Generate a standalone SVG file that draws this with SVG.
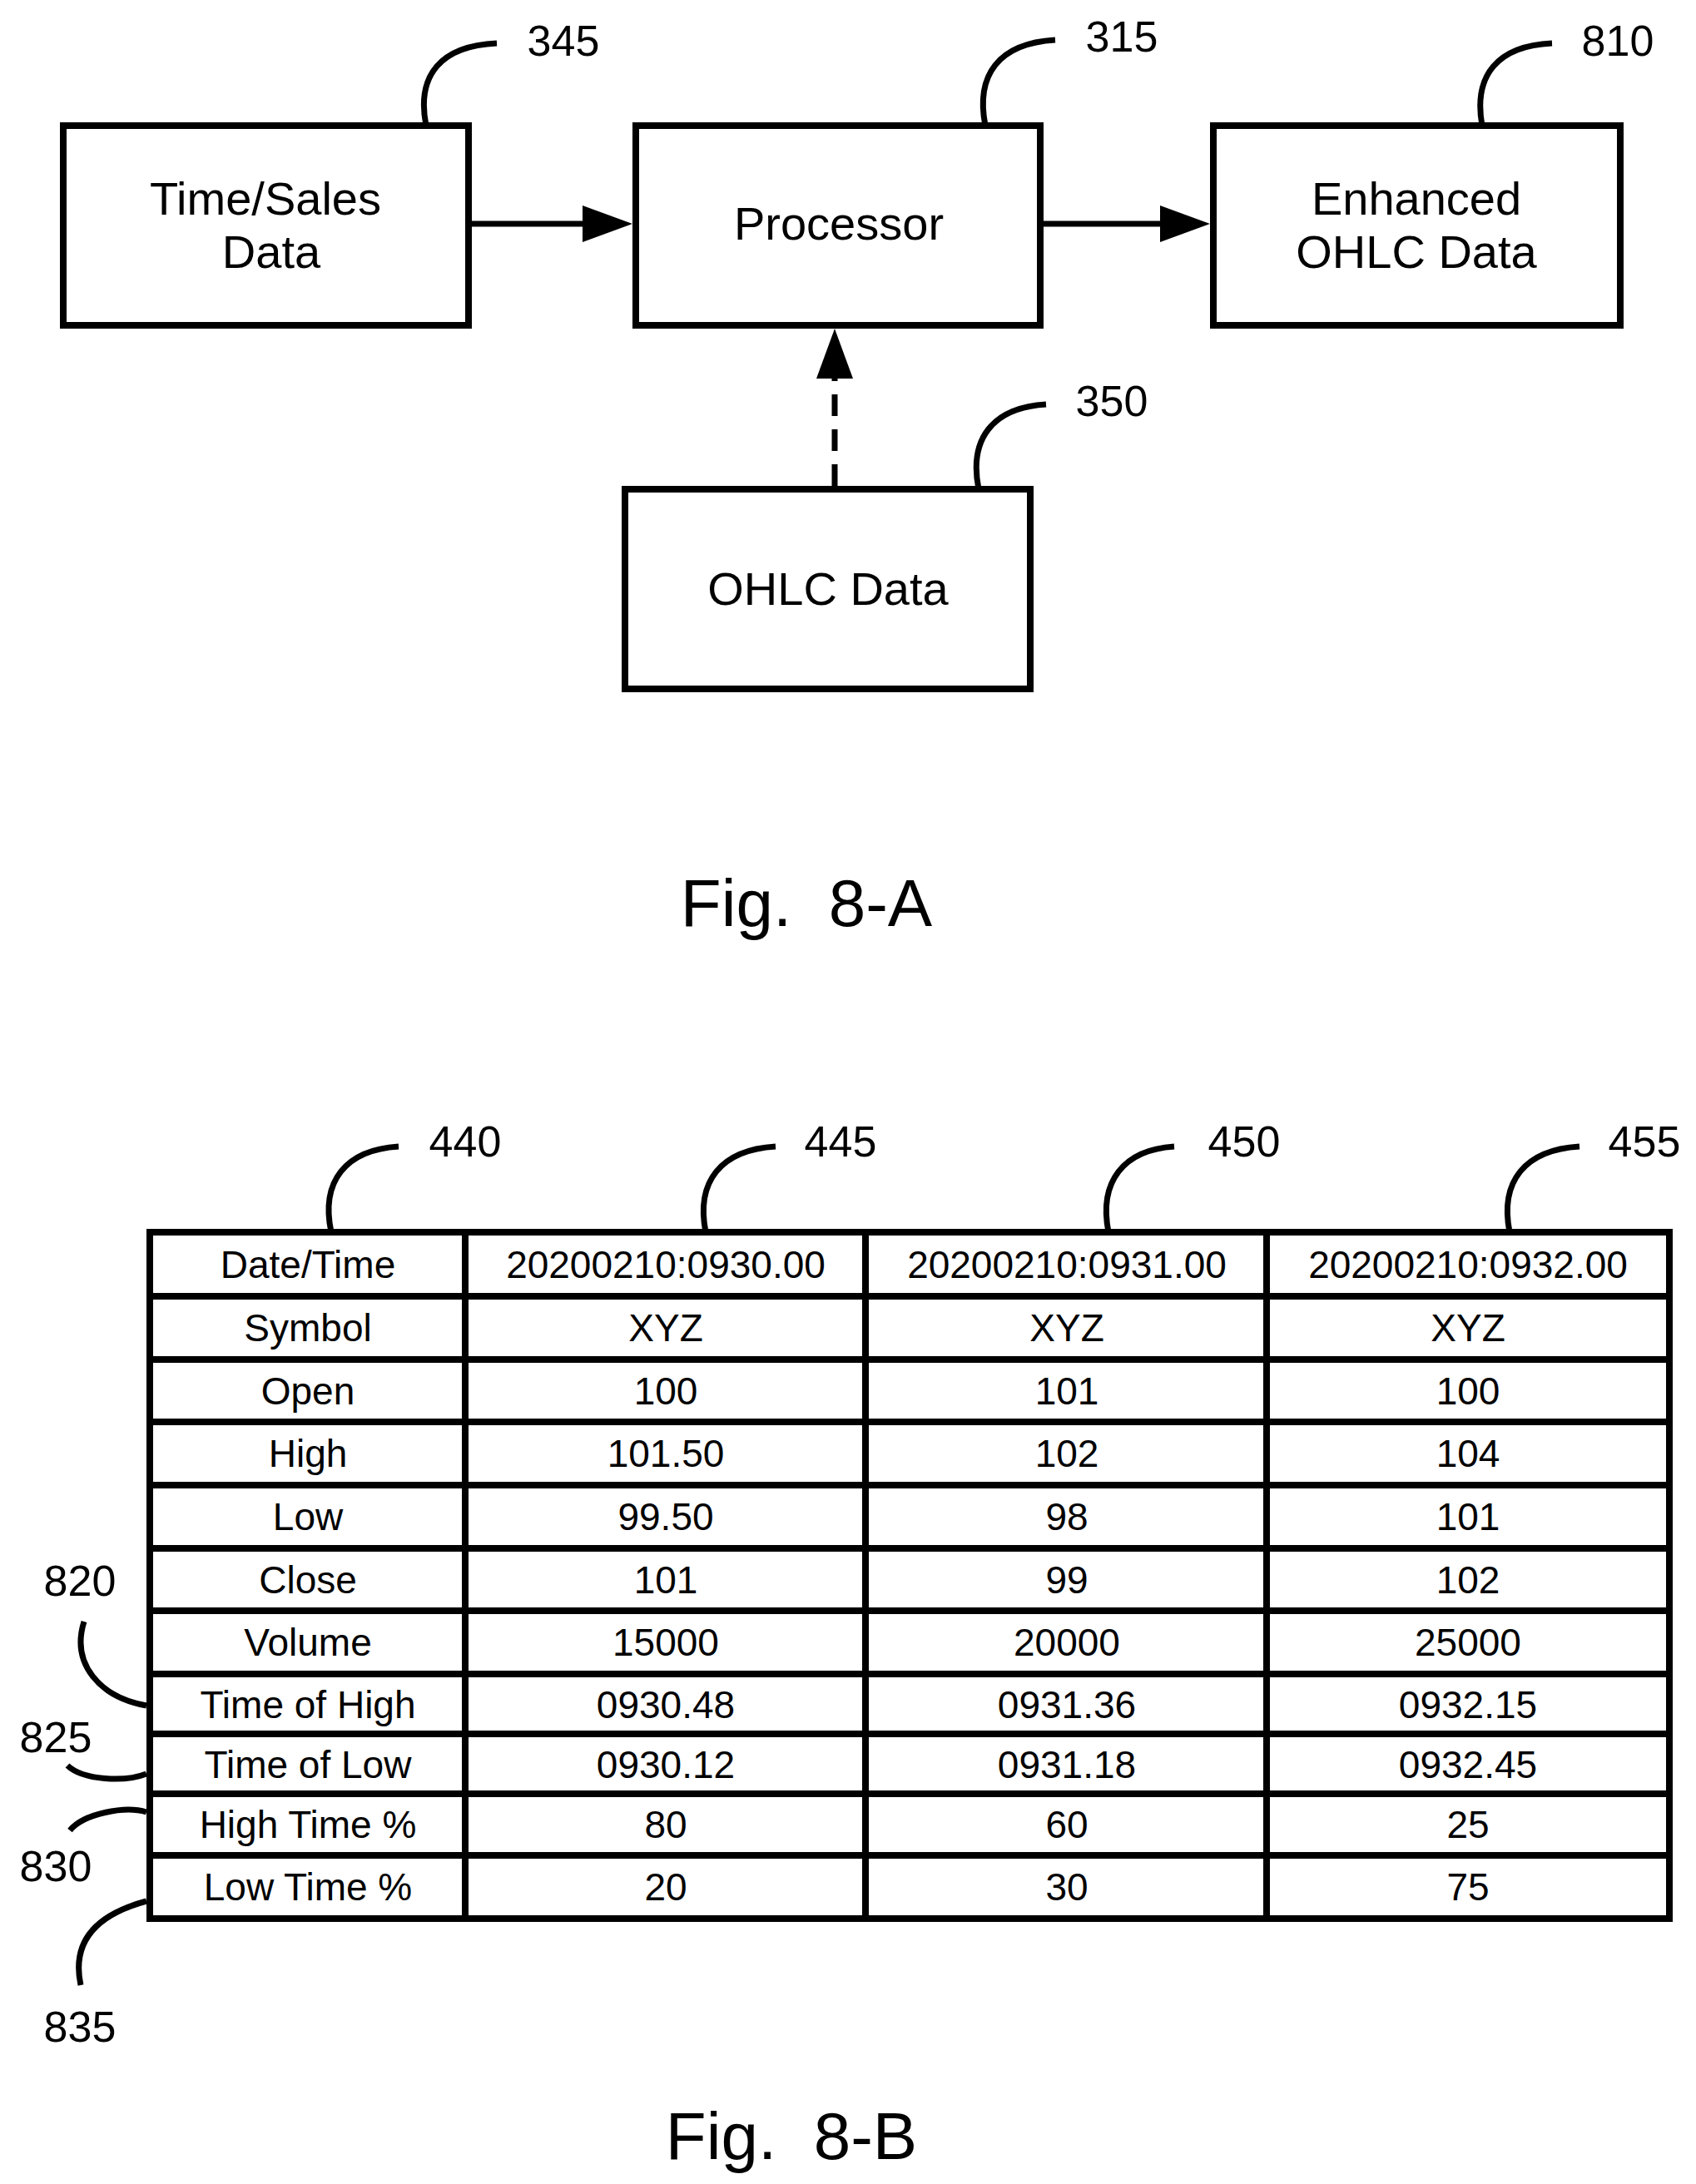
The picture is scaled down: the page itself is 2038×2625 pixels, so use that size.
<svg xmlns="http://www.w3.org/2000/svg" width="2038" height="2625" viewBox="0 0 2038 2625">
<style>
text{font-family:"Liberation Sans",Arial,sans-serif;fill:#000;text-anchor:middle}
.box{fill:#fff;stroke:#000;stroke-width:8}
.lbl{font-size:56px}
.ref{font-size:52px}
.cell{font-size:46px}
.lead{fill:none;stroke:#000;stroke-width:7}
.conn{stroke:#000;stroke-width:7;fill:none}
.tl{stroke:#000;stroke-width:8;fill:none}
.fig{font-size:80px;white-space:pre}
</style>
<rect width="2038" height="2625" fill="#fff"/>
<g id="connectors">
<line class="conn" x1="567" y1="269" x2="700" y2="269"/>
<path d="M700,247 L760,269 L700,291 z"/>
<line class="conn" x1="1254" y1="269" x2="1394" y2="269"/>
<path d="M1394,247 L1454,269 L1394,291 z"/>
<line class="conn" x1="1003" y1="584" x2="1003" y2="455" stroke-dasharray="26,16"/>
<path d="M981,455 L1003,395 L1025,455 z"/>
</g>
<g id="n345"><rect class="box" x="76" y="151" width="487" height="240"/><text class="lbl" x="319" y="258">Time/Sales</text><text class="lbl" x="326" y="322">Data</text>
<path class="lead" d="M512,151 C500,90 530,55 597,52"/><text class="ref" x="677" y="67">345</text></g>
<g id="n315"><rect class="box" x="764" y="151" width="486" height="240"/><text class="lbl" x="1008" y="288">Processor</text>
<path class="lead" d="M1184,151 C1172,90 1200,52 1268,48"/><text class="ref" x="1348" y="62">315</text></g>
<g id="n810"><rect class="box" x="1458" y="151" width="489" height="240"/><text class="lbl" x="1702" y="258">Enhanced</text><text class="lbl" x="1702" y="322">OHLC Data</text>
<path class="lead" d="M1781,151 C1770,90 1800,55 1865,52"/><text class="ref" x="1944" y="67">810</text></g>
<g id="n350"><rect class="box" x="751" y="588" width="487" height="240"/><text class="lbl" x="995" y="727">OHLC Data</text>
<path class="lead" d="M1176,588 C1164,528 1192,490 1257,486"/><text class="ref" x="1336" y="500">350</text></g>
<text class="fig" x="969" y="1113" xml:space="preserve">Fig.  8-A</text>
<g id="table">
<rect class="tl" x="180" y="1481" width="1826" height="825"/>
<g><line class="tl" x1="559" y1="1481" x2="559" y2="2306"/><line class="tl" x1="1040" y1="1481" x2="1040" y2="2306"/><line class="tl" x1="1522" y1="1481" x2="1522" y2="2306"/>
<line class="tl" x1="180" y1="1558" x2="2006" y2="1558"/><line class="tl" x1="180" y1="1634" x2="2006" y2="1634"/><line class="tl" x1="180" y1="1709" x2="2006" y2="1709"/><line class="tl" x1="180" y1="1785" x2="2006" y2="1785"/><line class="tl" x1="180" y1="1861" x2="2006" y2="1861"/><line class="tl" x1="180" y1="1936" x2="2006" y2="1936"/><line class="tl" x1="180" y1="2012" x2="2006" y2="2012"/><line class="tl" x1="180" y1="2084" x2="2006" y2="2084"/><line class="tl" x1="180" y1="2156" x2="2006" y2="2156"/><line class="tl" x1="180" y1="2230" x2="2006" y2="2230"/></g>
<g class="cell">
<text x="370" y="1536">Date/Time</text><text x="800" y="1536">20200210:0930.00</text><text x="1282" y="1536">20200210:0931.00</text><text x="1764" y="1536">20200210:0932.00</text>
<text x="370" y="1612">Symbol</text><text x="800" y="1612">XYZ</text><text x="1282" y="1612">XYZ</text><text x="1764" y="1612">XYZ</text>
<text x="370" y="1688">Open</text><text x="800" y="1688">100</text><text x="1282" y="1688">101</text><text x="1764" y="1688">100</text>
<text x="370" y="1763">High</text><text x="800" y="1763">101.50</text><text x="1282" y="1763">102</text><text x="1764" y="1763">104</text>
<text x="370" y="1839">Low</text><text x="800" y="1839">99.50</text><text x="1282" y="1839">98</text><text x="1764" y="1839">101</text>
<text x="370" y="1915">Close</text><text x="800" y="1915">101</text><text x="1282" y="1915">99</text><text x="1764" y="1915">102</text>
<text x="370" y="1990">Volume</text><text x="800" y="1990">15000</text><text x="1282" y="1990">20000</text><text x="1764" y="1990">25000</text>
<text x="370" y="2065">Time of High</text><text x="800" y="2065">0930.48</text><text x="1282" y="2065">0931.36</text><text x="1764" y="2065">0932.15</text>
<text x="370" y="2137">Time of Low</text><text x="800" y="2137">0930.12</text><text x="1282" y="2137">0931.18</text><text x="1764" y="2137">0932.45</text>
<text x="370" y="2209">High Time %</text><text x="800" y="2209">80</text><text x="1282" y="2209">60</text><text x="1764" y="2209">25</text>
<text x="370" y="2284">Low Time %</text><text x="800" y="2284">20</text><text x="1282" y="2284">30</text><text x="1764" y="2284">75</text>
</g>
</g>
<g id="labels">
<path class="lead" d="M398,1481 C385,1420 415,1382 479,1378"/><text class="ref" x="559" y="1390">440</text>
<path class="lead" d="M848,1481 C836,1420 866,1382 932,1378"/><text class="ref" x="1010" y="1390">445</text>
<path class="lead" d="M1332,1481 C1320,1420 1350,1382 1411,1378"/><text class="ref" x="1495" y="1390">450</text>
<path class="lead" d="M1814,1481 C1802,1420 1832,1382 1898,1378"/><text class="ref" x="1976" y="1390">455</text>
<path class="lead" d="M101,1949 C85,2000 120,2040 176,2050"/><text class="ref" x="96" y="1918">820</text>
<path class="lead" d="M81,2122 C100,2140 150,2142 176,2132"/><text class="ref" x="67" y="2106">825</text>
<path class="lead" d="M84,2200 C100,2180 150,2170 176,2178"/><text class="ref" x="67" y="2261">830</text>
<path class="lead" d="M176,2285 C120,2300 85,2330 97,2386"/><text class="ref" x="96" y="2454">835</text>
</g>
<text class="fig" x="951" y="2595" xml:space="preserve">Fig.  8-B</text>
</svg>
